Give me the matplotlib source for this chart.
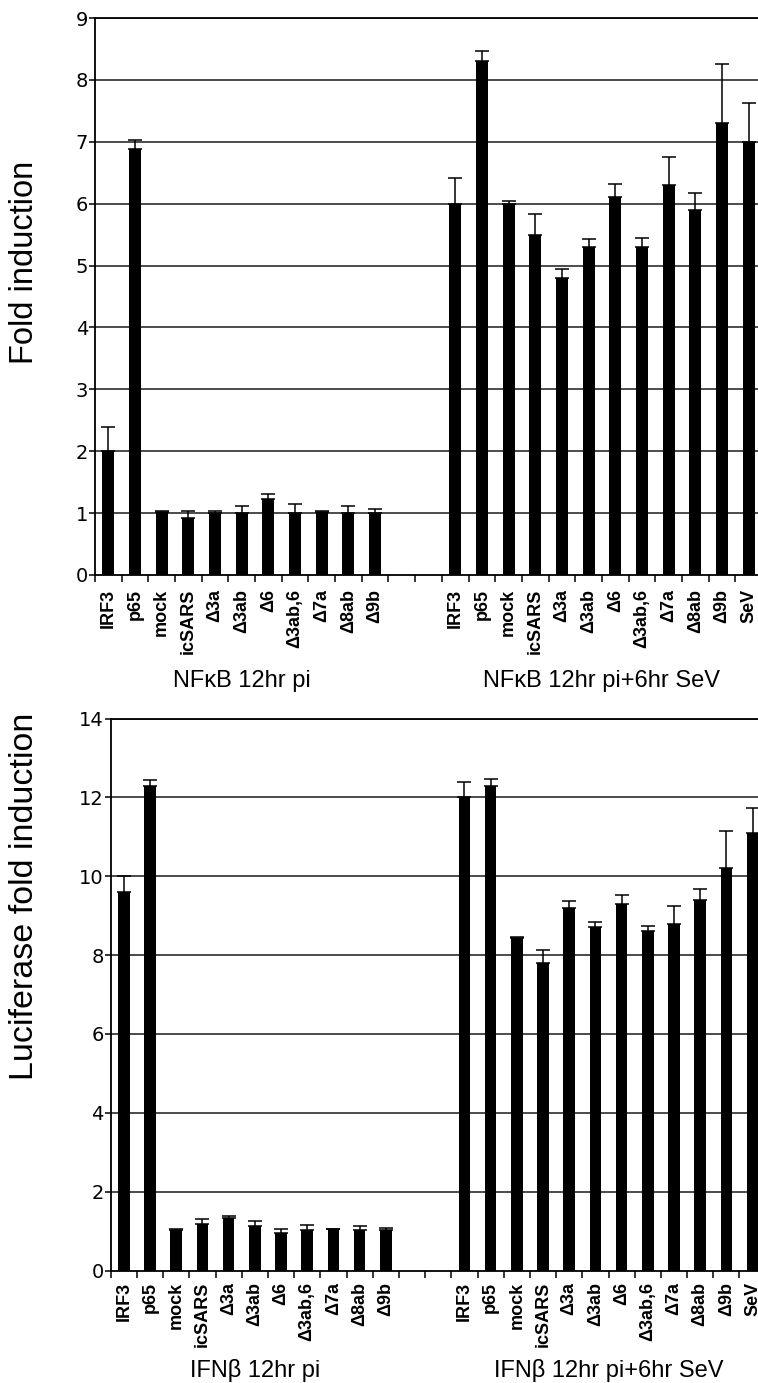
import matplotlib
matplotlib.use("Agg")
import matplotlib.pyplot as plt
import numpy as np

# ---- data ----
cats_pi = ["IRF3", "p65", "mock", "icSARS", "Δ3a", "Δ3ab", "Δ6", "Δ3ab,6", "Δ7a", "Δ8ab", "Δ9b"]
cats_sev = ["IRF3", "p65", "mock", "icSARS", "Δ3a", "Δ3ab", "Δ6", "Δ3ab,6", "Δ7a", "Δ8ab", "Δ9b", "SeV"]

nfkb_pi = [2.0, 6.88, 1.01, 0.92, 1.0, 1.0, 1.22, 1.0, 1.02, 1.0, 1.0]
nfkb_pi_err = [0.39, 0.15, 0.03, 0.12, 0.03, 0.12, 0.09, 0.15, 0.02, 0.12, 0.06]
nfkb_sev = [6.0, 8.30, 6.0, 5.50, 4.80, 5.30, 6.10, 5.30, 6.30, 5.90, 7.30, 7.0]
nfkb_sev_err = [0.41, 0.16, 0.04, 0.33, 0.15, 0.13, 0.21, 0.15, 0.45, 0.27, 0.95, 0.62]

ifnb_pi = [9.6, 12.3, 1.03, 1.18, 1.32, 1.13, 0.95, 1.02, 1.04, 1.02, 1.02]
ifnb_pi_err = [0.4, 0.13, 0.02, 0.12, 0.05, 0.12, 0.10, 0.13, 0.02, 0.11, 0.05]
ifnb_sev = [12.0, 12.3, 8.43, 7.81, 9.20, 8.70, 9.30, 8.61, 8.80, 9.40, 10.20, 11.10]
ifnb_sev_err = [0.40, 0.16, 0.03, 0.32, 0.16, 0.14, 0.22, 0.14, 0.44, 0.28, 0.95, 0.62]

top_ylabel = "Fold induction"
bot_ylabel = "Luciferase fold induction"
top_groups = ["NFκB 12hr pi", "NFκB 12hr pi+6hr SeV"]
bot_groups = ["IFNβ 12hr pi", "IFNβ 12hr pi+6hr SeV"]

W, H = 758, 1383
fig = plt.figure(figsize=(W / 100, H / 100), dpi=100)

label_font = "Liberation Sans"
tick_font = "DejaVu Sans"


def draw(ax, vals1, err1, vals2, err2, cats1, cats2, ymax, ystep, groups, pad, group_y):
    x1 = np.arange(len(cats1))
    x2 = np.arange(len(cats2)) + len(cats1) + 2
    ax.set_axisbelow(True)
    for y in np.arange(ystep, ymax + 0.01, ystep):
        ax.axhline(y, color="#1a1a1a", lw=1.1, zorder=0)
    kw = dict(width=0.45, color="black", zorder=2,
              error_kw=dict(ecolor="black", elinewidth=1.1, capsize=4.8, capthick=1.1))
    ax.bar(x1, vals1, yerr=[np.zeros(len(vals1)), err1], **kw)
    ax.bar(x2, vals2, yerr=[np.zeros(len(vals2)), err2], **kw)
    ax.set_xlim(-0.5, len(cats1) + 2 + len(cats2) - 0.5)
    ax.set_ylim(0, ymax)
    ax.set_yticks(np.arange(0, ymax + 0.01, ystep))
    ax.set_yticklabels([f"{int(v)}" for v in np.arange(0, ymax + 0.01, ystep)],
                       fontsize=14, family=tick_font)
    ax.tick_params(axis="y", direction="out", length=4, width=1.1, pad=1)
    bounds = np.arange(-0.5, len(cats1) + 2 + len(cats2))
    ax.set_xticks(bounds)
    ax.set_xticklabels([])
    ax.tick_params(axis="x", which="major", direction="out", length=5, width=1.1)
    centers = np.concatenate([x1, x2])
    ax.set_xticks(centers, minor=True)
    ax.set_xticklabels(list(cats1) + list(cats2), minor=True, rotation=90,
                       fontsize=13, fontweight="bold", family=label_font, va="top")
    ax.tick_params(axis="x", which="minor", length=0, pad=pad)
    for s in ax.spines.values():
        s.set_linewidth(1.3)
        s.set_color("black")
    tr = ax.get_xaxis_transform()
    ax.text(x1.mean(), group_y, groups[0], transform=tr, ha="center", va="center",
            fontsize=17, family=label_font)
    ax.text(x2.mean(), group_y, groups[1], transform=tr, ha="center", va="center",
            fontsize=17, family=label_font)


# top axes: x 95..762 px, y 18..576 px
ax1 = fig.add_axes([95 / W, 1 - 575 / H, 667 / W, 557 / H])
draw(ax1, nfkb_pi, nfkb_pi_err, nfkb_sev, nfkb_sev_err, cats_pi, cats_sev,
     9, 1, top_groups, pad=10, group_y=-0.19)

# bottom axes: x 110.7..765.7 px, y 718.7..1271.1 px
ax2 = fig.add_axes([110.7 / W, 1 - 1270.5 / H, 655 / W, 552 / H])
draw(ax2, ifnb_pi, ifnb_pi_err, ifnb_sev, ifnb_sev_err, cats_pi, cats_sev,
     14, 2, bot_groups, pad=8, group_y=-0.182)

fig.text(25 / W, 1 - 262 / H, top_ylabel, rotation=90, ha="center", va="center",
         fontsize=23.5, family=label_font)
fig.text(25 / W, 1 - 896 / H, bot_ylabel, rotation=90, ha="center", va="center",
         fontsize=24.5, family=label_font)

fig.savefig("out.png", dpi=100, facecolor="white")
